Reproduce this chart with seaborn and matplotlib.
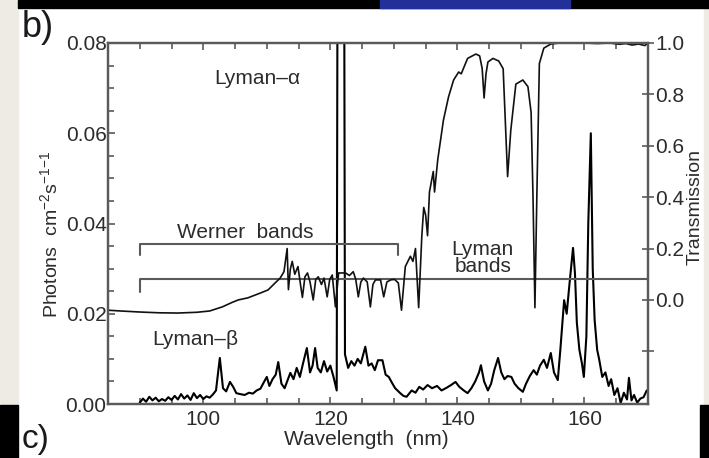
import numpy as np
import pandas as pd
import matplotlib
matplotlib.use("Agg")
import matplotlib.pyplot as plt
import seaborn as sns
from matplotlib.ticker import MultipleLocator, FixedLocator, FuncFormatter
from matplotlib.patches import Rectangle

# ---------------- data ----------------
# Emission spectrum (left axis, photons cm-2 s-1)
em_wavelength = [
    90.0, 90.5, 91.0, 91.5, 92.0, 92.5, 93.0, 93.5, 94.0, 94.5, 95.0, 95.5, 96.0, 96.5,
    97.0, 97.5, 98.0, 98.5, 99.0, 99.5, 100.0, 100.5, 101.0, 101.5, 102.0, 102.6, 103.1,
    103.6, 104.2, 104.7, 105.2, 105.8, 106.5, 107.2, 107.8, 108.4, 109.0, 109.6, 110.0,
    110.4, 110.9, 111.4, 111.8, 112.3, 112.8, 113.2, 113.7, 114.2, 114.7, 115.2, 115.7,
    116.3, 116.8, 117.2, 117.6, 118.0, 118.5, 119.0, 119.5, 120.0, 120.5, 121.0, 121.2,
    122.1, 122.3, 122.8, 123.3, 123.8, 124.3, 124.8, 125.5, 126.0, 126.5, 127.0, 127.5,
    128.2, 128.7, 129.2, 129.7, 130.2, 131.0, 131.5, 132.0, 132.8, 133.4, 134.0, 134.6,
    135.3, 136.0, 136.8, 137.5, 138.3, 139.0, 139.7, 140.3, 141.0, 141.6, 142.2, 142.8,
    143.4, 143.7, 144.2, 144.8, 145.3, 145.8, 146.4, 146.9, 147.4, 147.9, 148.5, 149.0,
    149.6, 150.3, 150.8, 151.4, 152.0, 152.5, 153.0, 153.6, 154.1, 154.7, 155.2, 155.8,
    156.2, 156.8, 157.2, 157.6, 158.2, 158.5, 158.8, 159.2, 159.6, 159.9, 160.3, 160.6,
    161.0, 161.3, 161.6, 162.0, 162.3, 162.8, 163.3, 163.8, 164.2, 164.7, 165.2, 165.7,
    166.2, 166.7, 167.0, 167.4, 167.8, 168.3, 168.8, 169.3, 169.8,
]
em_photons = [
    0.0003, 0.0012, 0.0005, 0.0016, 0.0008, 0.0014, 0.0006, 0.0011, 0.0007, 0.0015, 0.0009,
    0.0018, 0.0010, 0.0022, 0.0012, 0.0019, 0.0009, 0.0024, 0.0013, 0.0020, 0.0011, 0.0017,
    0.0014, 0.0021, 0.0030, 0.0102, 0.0035, 0.0028, 0.0049, 0.0038, 0.0024, 0.0022, 0.0020,
    0.0025, 0.0023, 0.0030, 0.0034, 0.0050, 0.0060, 0.0040, 0.0055, 0.0065, 0.0093, 0.0045,
    0.0035, 0.0050, 0.0069, 0.0055, 0.0080, 0.0060, 0.0090, 0.0124, 0.0070, 0.0085, 0.0124,
    0.0080, 0.0070, 0.0095, 0.0072, 0.0085, 0.0060, 0.0030, 0.1500, 0.1500, 0.0110, 0.0080,
    0.0095, 0.0085, 0.0100, 0.0090, 0.0127, 0.0085, 0.0090, 0.0075, 0.0097, 0.0097, 0.0065,
    0.0060, 0.0047, 0.0035, 0.0024, 0.0018, 0.0016, 0.0030, 0.0025, 0.0038, 0.0032, 0.0042,
    0.0035, 0.0040, 0.0030, 0.0036, 0.0042, 0.0049, 0.0038, 0.0030, 0.0024, 0.0035, 0.0050,
    0.0070, 0.0086, 0.0050, 0.0030, 0.0045, 0.0075, 0.0102, 0.0070, 0.0055, 0.0062, 0.0060,
    0.0045, 0.0035, 0.0027, 0.0045, 0.0062, 0.0075, 0.0065, 0.0085, 0.0098, 0.0080, 0.0113,
    0.0070, 0.0053, 0.0120, 0.0230, 0.0200, 0.0260, 0.0346, 0.0290, 0.0180, 0.0120, 0.0090,
    0.0060, 0.0150, 0.0400, 0.0600, 0.0300, 0.0186, 0.0120, 0.0100, 0.0060, 0.0070, 0.0040,
    0.0055, 0.0020, 0.0035, 0.0002, 0.0025, 0.0010, 0.0058, 0.0008, 0.0020, 0.0003, 0.0012,
    0.0015, 0.0030,
]

# Transmission curve (right axis)
tr_wavelength = [
    85.0, 87.0, 90.0, 93.0, 96.0, 99.0, 101.0, 103.0, 104.5, 105.5, 107.0, 109.0, 110.2,
    111.3, 112.1, 112.7, 113.2, 113.4, 113.7, 114.0, 114.4, 114.9, 115.3, 115.6, 116.0,
    116.4, 116.8, 117.3, 117.7, 118.1, 118.6, 119.0, 119.5, 119.9, 120.3, 120.8, 121.3,
    122.4, 123.0, 123.6, 124.0, 124.4, 124.8, 125.2, 125.8, 126.3, 126.7, 127.1, 127.9,
    128.4, 128.9, 129.5, 130.1, 130.7, 131.2, 131.8, 132.6, 133.0, 133.4, 133.9, 134.4,
    134.7, 135.0, 135.3, 135.6, 136.2, 136.4, 136.9, 137.8, 138.6, 139.4, 140.2, 140.6,
    141.6, 142.9, 143.5, 143.9, 144.2, 144.5, 144.8, 145.6, 146.5, 147.2, 147.6, 147.9,
    148.4, 149.2, 150.3, 151.1, 151.6, 151.9, 152.2, 152.5, 152.9, 153.6, 154.7, 156.0,
    158.0, 160.0, 162.0, 164.0, 165.5, 166.5, 167.5, 168.5, 169.5, 170.0,
]
tr_transmission = [
    -0.040, -0.043, -0.047, -0.050, -0.051, -0.048, -0.043, -0.027, -0.010, 0.000, 0.008,
    0.027, 0.039, 0.066, 0.085, 0.110, 0.200, 0.040, 0.120, 0.150, 0.100, 0.130, 0.060,
    0.010, 0.090, 0.105, 0.070, 0.000, 0.080, 0.090, 0.060, 0.085, 0.012, 0.080, 0.097,
    -0.027, 0.105, 0.105, 0.095, 0.110, 0.080, 0.012, 0.070, 0.085, 0.070, -0.027, 0.060,
    0.078, 0.078, 0.012, 0.070, 0.078, 0.080, 0.066, -0.040, 0.130, 0.170, 0.150, 0.200,
    -0.030, 0.250, 0.360, 0.330, 0.250, 0.420, 0.500, 0.420, 0.545, 0.700, 0.790, 0.856,
    0.887, 0.880, 0.940, 0.957, 0.950, 0.900, 0.786, 0.880, 0.926, 0.940, 0.930, 0.900,
    0.660, 0.480, 0.660, 0.840, 0.856, 0.830, 0.730, 0.400, -0.030, 0.400, 0.920, 0.980,
    0.996, 1.000, 1.000, 1.000, 0.998, 1.000, 0.995, 0.998, 0.992, 0.996, 0.990, 1.000,
]

# band brackets (start, end, level, tick depth) in photon units
werner_bracket = (90.0, 130.7, 0.0355, 0.0025)
lyman_bracket = (90.0, 170.0, 0.0277, 0.0029)

x_limits = (85, 170)
left_limits = (0.0, 0.08)
right_limits = (-0.405, 1.0)

# ---------------- style ----------------
sns.set_style("white")
plt.rcParams["font.family"] = ["Liberation Sans", "DejaVu Sans"]
plt.rcParams["mathtext.fontset"] = "custom"
plt.rcParams["mathtext.rm"] = "Liberation Sans"
plt.rcParams["mathtext.it"] = "Liberation Sans:italic"
plt.rcParams["mathtext.default"] = "regular"

GRAY = "#5a5a5a"
TXT = "#2c2c2c"
FS = 15

fig = plt.figure(figsize=(7.09, 4.58), dpi=100)
fig.patch.set_facecolor("white")

# scan decorations around the panel
beige = "#eeeae4"
fig.add_artist(Rectangle((0, 0.1157), 0.0254, 0.8843, transform=fig.transFigure, color=beige, zorder=0))
fig.add_artist(Rectangle((0, 0), 0.0254, 0.1157, transform=fig.transFigure, color="black", zorder=0))
fig.add_artist(Rectangle((0.9930, 0.1157), 0.0070, 0.8843, transform=fig.transFigure, color=beige, zorder=0))
fig.add_artist(Rectangle((0.9874, 0), 0.0126, 0.1157, transform=fig.transFigure, color="black", zorder=0))
fig.add_artist(Rectangle((0.0254, 0.9825), 0.9746, 0.0175, transform=fig.transFigure, color="black", zorder=0))
fig.add_artist(Rectangle((0.536, 0.9825), 0.268, 0.0175, transform=fig.transFigure, color="#23309a", zorder=0))

ax = fig.add_axes([108 / 709, 1 - 404 / 458, 540 / 709, 361 / 458])
ax2 = ax.twinx()

em_df = pd.DataFrame({"wavelength": em_wavelength, "photons": em_photons})
tr_df = pd.DataFrame({"wavelength": tr_wavelength, "transmission": tr_transmission})

sns.lineplot(data=em_df, x="wavelength", y="photons", ax=ax, color="black",
             lw=1.5, estimator=None, sort=False)
sns.lineplot(data=tr_df, x="wavelength", y="transmission", ax=ax2, color="#111111",
             lw=1.2, estimator=None, sort=False)

# brackets
for (x0, x1, lev, d), right_tick in ((werner_bracket, True), (lyman_bracket, False)):
    xs = [x0, x0, x1] + ([x1] if right_tick else [])
    ys = [lev - d, lev, lev] + ([lev - d] if right_tick else [])
    ax.plot(xs, ys, color=GRAY, lw=1.5, zorder=3)

ax.set_xlim(*x_limits)
ax.set_ylim(*left_limits)
ax2.set_ylim(*right_limits)

# ticks
ax.xaxis.set_major_locator(MultipleLocator(20))
ax.xaxis.set_minor_locator(MultipleLocator(5))
ax.yaxis.set_major_locator(MultipleLocator(0.02))
ax.yaxis.set_minor_locator(MultipleLocator(0.005))
ax.yaxis.set_major_formatter(FuncFormatter(lambda v, p: f"{v:.2f}"))
ax.tick_params(axis="x", which="both", direction="in", top=True, bottom=True,
               color=GRAY, width=1.2, labelsize=FS, labelcolor=TXT, pad=4)
ax.tick_params(axis="x", which="major", length=5)
ax.tick_params(axis="x", which="minor", length=4)
ax.tick_params(axis="y", which="both", direction="in", left=True, right=False,
               color=GRAY, width=1.2, labelsize=FS, labelcolor=TXT, pad=1)
ax.tick_params(axis="y", which="major", length=5)
ax.tick_params(axis="y", which="minor", length=4)

ax2.yaxis.set_major_locator(FixedLocator([-0.2, 0.0, 0.2, 0.4, 0.6, 0.8, 1.0]))
ax2.yaxis.set_major_formatter(FuncFormatter(lambda v, p: "" if v < -0.01 else f"{v:.1f}"))
ax2.tick_params(axis="y", which="major", direction="inout", length=9, width=1.2,
                color=GRAY, labelsize=FS, labelcolor=TXT, pad=0.5)
ax2.set_ylabel("")
ax.set_ylabel("")
ax.set_xlabel("Wavelength  (nm)", fontsize=FS, color=TXT)
ax.xaxis.set_label_coords(0.478, -0.072)

for a in (ax, ax2):
    for s in a.spines.values():
        s.set_color(GRAY)
        s.set_linewidth(1.6)

ax.text(-0.107, 0.471, "Photons  cm$^{-2}$s$^{-1}$$^{-1}$", transform=ax.transAxes,
        rotation=90, ha="center", va="center", fontsize=FS - 1, color=TXT)
ax.text(1.087, 0.546, "Transmission", transform=ax.transAxes,
        rotation=90, ha="center", va="center", fontsize=FS - 1, color=TXT)

# annotations
ax.text(108.45, 0.0722, "Lyman\u2013\u03b1", ha="center", va="center", fontsize=FS, color=TXT)
ax.text(106.6, 0.0381, "Werner  bands", ha="center", va="center", fontsize=FS, color=TXT)
ax.text(144.0, 0.0324, "Lyman\nbands", ha="center", va="center", fontsize=FS, color=TXT,
        linespacing=0.9, multialignment="center")
ax.text(98.7, 0.0142, "Lyman\u2013\u03b2", ha="center", va="center", fontsize=FS, color=TXT)

fig.text(22 / 709, 1 - 10 / 458, "b)", fontsize=26, color="#1a1a1a", ha="left", va="top")
fig.text(22 / 709, 1 - 424 / 458, "c)", fontsize=24, color="#1a1a1a", ha="left", va="top")

fig.savefig("out.png", dpi=100)
